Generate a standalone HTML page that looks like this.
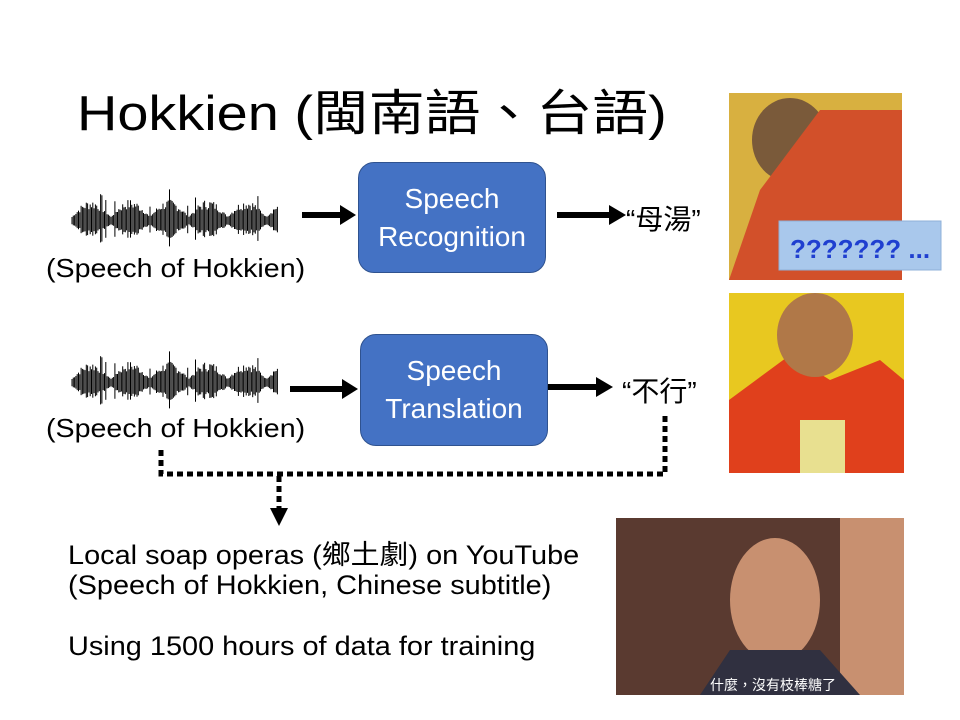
<!DOCTYPE html>
<html><head><meta charset="utf-8"><style>
body{margin:0;width:960px;height:720px;background:#fff;position:relative;overflow:hidden;font-family:"Liberation Sans","Noto Sans CJK TC",sans-serif;}
.t{position:absolute;white-space:nowrap;color:#000;transform-origin:0 0;}
.box{position:absolute;background:#4472c4;border:1.5px solid #2f528f;border-radius:16px;color:#fff;font-size:28px;text-align:center;line-height:38px;box-sizing:border-box;}
</style></head><body>
<div class="t" style="left:77px;top:74px;font-size:49px;transform:scaleX(1.14);">Hokkien (閩南語、台語)</div>

<div class="box" style="left:358px;top:162px;width:188px;height:111px;padding-top:17px;">Speech<br>Recognition</div>
<div class="box" style="left:360px;top:334px;width:188px;height:112px;padding-top:17px;">Speech<br>Translation</div>

<div class="t" style="left:46px;top:253px;font-size:26px;transform:scaleX(1.1);">(Speech of Hokkien)</div>
<div class="t" style="left:46px;top:413px;font-size:26px;transform:scaleX(1.1);">(Speech of Hokkien)</div>
<div class="t" style="left:626px;top:198px;font-size:28px;">“母湯”</div>
<div class="t" style="left:622px;top:370px;font-size:28px;">“不行”</div>

<svg width="960" height="720" style="position:absolute;left:0;top:0">
<g id="w1" stroke="#000" stroke-width="1"></g>
<g id="w2" stroke="#000" stroke-width="1"></g>
<g fill="#000">
<rect x="302" y="212" width="40" height="6"/><polygon points="340,205 356,215 340,225"/>
<rect x="557" y="212" width="54" height="6"/><polygon points="609,205 626,215 609,225"/>
<rect x="290" y="386" width="54" height="6"/><polygon points="342,379 358,389 342,399"/>
<rect x="548" y="384" width="50" height="6"/><polygon points="596,377 613,387 596,397"/>
</g>
<g stroke="#000" stroke-width="5" fill="none" stroke-dasharray="6,4">
<polyline points="161,450 161,474 665,474 665,416"/>
<line x1="279" y1="476" x2="279" y2="508"/>
</g>
<polygon points="270,508 288,508 279,526" fill="#000"/>

<rect x="729" y="93" width="173" height="187" fill="#d8b040"/>
<ellipse cx="790" cy="140" rx="38" ry="42" fill="#7a5a3a"/>
<path d="M820 110 L902 110 L902 280 L729 280 L760 190 Z" fill="#d2502a"/>
<rect x="779" y="221" width="162" height="49" fill="#a9c8ec" stroke="#8fb0d8"/>
<text x="790" y="258" font-family="Liberation Sans" font-weight="bold" font-size="26" fill="#1f3fd0">??????? ...</text>

<rect x="729" y="293" width="175" height="180" fill="#e8c820"/>
<path d="M729 400 L790 355 L830 380 L880 360 L904 380 L904 473 L729 473 Z" fill="#e0401c"/>
<ellipse cx="815" cy="335" rx="38" ry="42" fill="#b07848"/>
<rect x="800" y="420" width="45" height="53" fill="#e8e090"/>

<rect x="616" y="518" width="288" height="177" fill="#5a3a30"/>
<rect x="840" y="518" width="64" height="177" fill="#c89070"/>
<ellipse cx="775" cy="600" rx="45" ry="62" fill="#c89070"/>
<path d="M700 695 L730 650 L820 650 L860 695 Z" fill="#303040"/>
<text x="710" y="690" font-family="Noto Sans CJK TC" font-size="14" fill="#fff">什麼，沒有枝棒糖了</text>
</svg>

<div class="t" style="left:68px;top:533px;font-size:27px;transform:scaleX(1.07);">Local soap operas (鄉土劇) on YouTube</div>
<div class="t" style="left:68px;top:570px;font-size:27px;transform:scaleX(1.07);">(Speech of Hokkien, Chinese subtitle)</div>
<div class="t" style="left:68px;top:631px;font-size:27px;transform:scaleX(1.07);">Using 1500 hours of data for training</div>

<script>
function wave(id,cy){var g=document.getElementById(id),s=7,h='';
for(var x=72;x<=278;x+=1.3){s=(s*9301+49297)%233280;var r=s/233280;
var env=4+18*Math.abs(Math.sin((x-72)/206*Math.PI*5.3))*(0.4+0.6*r);
if(r>0.93)env+=10;
h+='<line x1="'+x+'" y1="'+(cy-env)+'" x2="'+x+'" y2="'+(cy+env*0.8)+'"/>';}
g.innerHTML=h;}
wave('w1',221);wave('w2',383);
</script>
</body></html>
